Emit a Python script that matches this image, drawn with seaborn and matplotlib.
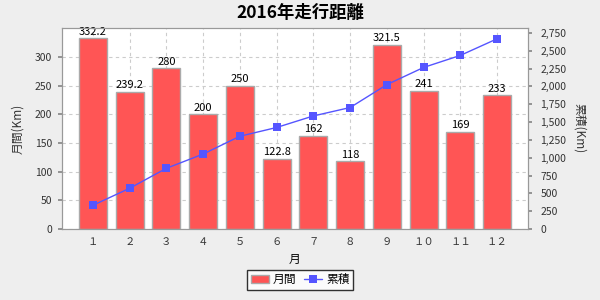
import matplotlib
matplotlib.use("Agg")
import matplotlib.pyplot as plt
import matplotlib.ticker as mticker
import seaborn as sns
import pandas as pd

months = ["１", "２", "３", "４", "５", "６", "７", "８", "９", "１０", "１１", "１２"]
monthly = [332.2, 239.2, 280, 200, 250, 122.8, 162, 118, 321.5, 241, 169, 233]
cumulative = [332.2, 571.4, 851.4, 1051.4, 1301.4, 1424.2, 1586.2, 1704.2, 2025.7, 2266.7, 2435.7, 2668.7]
labels = ["332.2", "239.2", "280", "200", "250", "122.8", "162", "118", "321.5", "241", "169", "233"]

sns.set_theme(style="white")
plt.rcParams['font.family'] = ['Noto Sans CJK JP', 'DejaVu Sans']
plt.rcParams['text.color'] = 'black'
plt.rcParams['axes.labelcolor'] = '#333333'

df = pd.DataFrame({"month": months, "monthly": monthly, "cumulative": cumulative})

fig = plt.figure(figsize=(6, 3), dpi=100, facecolor="#EEEEEE")
ax = fig.add_axes([62/600, 1-229/300, 466/600, 201/300])
ax.set_facecolor("white")
ax.set_axisbelow(True)

sns.barplot(data=df, x="month", y="monthly", ax=ax, color="#FF5555", width=0.76,
            edgecolor="#AAAAAA", linewidth=1, saturation=1, zorder=2)
ax.set_xlim(-0.84, 11.84)
ax.set_ylim(0, 350.5)
ax.set_yticks([0, 50, 100, 150, 200, 250, 300])
ax.grid(True, axis="both", color="#CCCCCC", linestyle=(0, (3, 3)), linewidth=0.8)
for i, (v, t) in enumerate(zip(monthly, labels)):
    ax.text(i, v + 3, t, ha="center", va="bottom", fontsize=8, color="black", zorder=5)

ax.set_xlabel("月", fontsize=8.5, color="black")
ax.set_ylabel("月間(Km)", fontsize=8.5, color="#333333", labelpad=8)
ax.tick_params(axis="y", labelsize=7.5, length=3, pad=4, colors="#888888", labelcolor="#333333")
ax.tick_params(axis="x", labelsize=7.5, length=0, pad=6, labelcolor="#333333")
for s in ax.spines.values():
    s.set_color("#999999")
    s.set_linewidth(0.8)

ax2 = ax.twinx()
sns.lineplot(data=df, x="month", y="cumulative", ax=ax2, color="#5555FF", marker="s",
             markersize=6, markeredgewidth=0, linewidth=1, sort=False, zorder=4)
ax2.set_ylim(0, 2820)
ax2.set_yticks(range(0, 2751, 250))
ax2.yaxis.set_major_formatter(mticker.FuncFormatter(lambda v, p: f"{int(v):,}"))
ax2.set_ylabel("累積(Km)", fontsize=8.5, rotation=-90, labelpad=14, color="#333333")
ax2.tick_params(axis="y", labelsize=7.5, length=3, pad=6, colors="#888888", labelcolor="#333333")
for s in ax2.spines.values():
    s.set_color("#999999")
    s.set_linewidth(0.8)
ax2.set_xlim(-0.84, 11.84)

fig.suptitle("2016年走行距離", fontsize=12.5, fontweight="bold", y=0.985, color="black")

from matplotlib.patches import Patch
from matplotlib.lines import Line2D
handles = [Patch(facecolor="#FF5555", edgecolor="#AAAAAA"),
           Line2D([0], [0], color="#5555FF", marker="s", markersize=6, markeredgewidth=0, linewidth=1)]
leg = fig.legend(handles, ["月間", "累積"], loc="lower center", bbox_to_anchor=(0.5, 0.015),
                 ncol=2, fontsize=8.5, frameon=True, fancybox=False, edgecolor="black",
                 handlelength=1.6, handletextpad=0.3, columnspacing=0.6, borderpad=0.3)
leg.get_frame().set_linewidth(1)
for t in leg.get_texts():
    t.set_color("black")

fig.savefig("out.png", dpi=100, facecolor=fig.get_facecolor())
